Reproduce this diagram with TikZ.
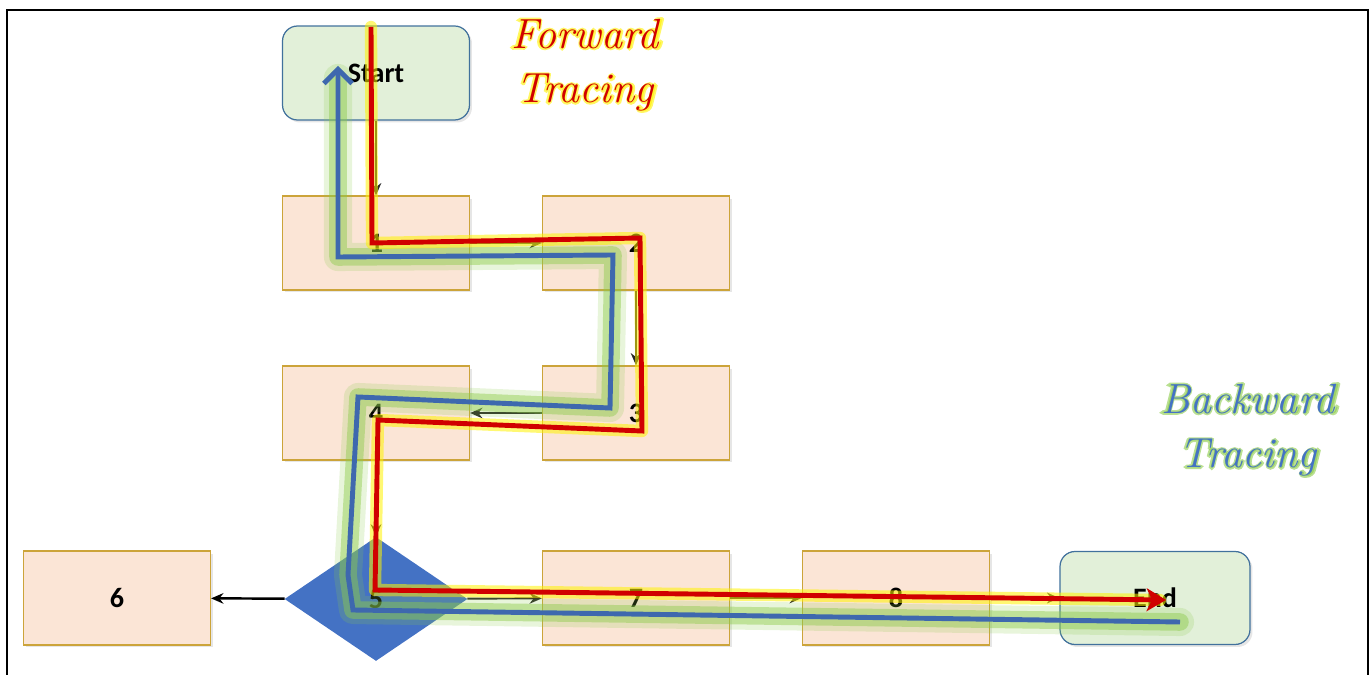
\documentclass[tikz,border=0pt]{standalone}
\usepackage{fontspec}
\setsansfont{Carlito}
\newfontfamily\glowfont{lmroman10-italic}[Extension=.otf, FakeBold=8]
\usetikzlibrary{shapes.geometric}
\usetikzlibrary{positioning}
\usetikzlibrary{arrows.meta}
\usetikzlibrary{shadows}
\definecolor{boxfill}{HTML}{FBE5D6}
\definecolor{boxline}{HTML}{CCA43A}
\definecolor{termfill}{HTML}{E2F0D9}
\definecolor{termline}{HTML}{41719C}
\definecolor{decfill}{HTML}{4472C4}
\definecolor{fwred}{HTML}{D00000}
\definecolor{bwblue}{HTML}{3E68AE}
\definecolor{glowgreen}{HTML}{8CCB4A}
\definecolor{glowyellow}{HTML}{FFF200}

\begin{document}
\begin{tikzpicture}[x=0.02cm,y=-0.02cm,
    stepbox/.style={draw=boxline, fill=boxfill, line width=0.7pt, minimum width=3.74cm, minimum height=1.88cm,
      font=\sffamily\bfseries\fontsize{16}{18}\selectfont,
      drop shadow={shadow xshift=0.05cm, shadow yshift=-0.05cm, opacity=0.2}},
    termbox/.style={stepbox, draw=termline, fill=termfill, rounded corners=0.3cm},
    decbox/.style={diamond, fill=decfill, minimum width=3.66cm, minimum height=2.48cm, inner sep=0pt,
      font=\sffamily\bfseries\fontsize{16}{18}\selectfont},
    conn/.style={-{Stealth[length=7pt,width=6pt]}, line width=1.1pt, black!85},
    blueglow/.style={draw=glowgreen, line width=10pt, opacity=0.45, line join=round, line cap=round},
    bluehalo/.style={draw=glowgreen, line width=16pt, opacity=0.2, line join=round, line cap=round},
    bluetrace/.style={draw=bwblue, line width=2.8pt, line join=miter},
    redglow/.style={draw=glowyellow, line width=7pt, opacity=0.55, line join=round, line cap=round},
    redtrace/.style={draw=fwred, line width=2.8pt, line join=miter},
    tracetext/.style={align=center, font=\itshape\fontsize{24}{31}\selectfont},
    glowtext/.style={tracetext, font=\glowfont\fontsize{24}{31}\selectfont, opacity=0.6}]
  % page and frame
  \useasboundingbox (0,0) rectangle (1370,675);
  \draw[line width=0.9pt] (7,675) -- (7,10) -- (1368,10) -- (1368,675);

  % flow chart
  \node[termbox] (start) at (376,73) {Start};
  \node[stepbox] (n1) at (376,243) {1};
  \node[stepbox] (n2) at (636,243) {2};
  \node[stepbox] (n3) at (636,413) {3};
  \node[stepbox] (n4) at (376,413) {4};
  \node[decbox] (n5) at (376,599) {5};
  \node[stepbox] (n6) at (117,598) {6};
  \node[stepbox] (n7) at (636,598) {7};
  \node[stepbox] (n8) at (896,598) {8};
  \node[termbox, minimum width=3.8cm, minimum height=1.86cm] (end) at (1155,598) {End};

  \draw[conn] (start) -- (n1);
  \draw[conn] (n1) -- (n2);
  \draw[conn] (n2) -- (n3);
  \draw[conn] (n3) -- (n4);
  \draw[conn] (n4) -- (n5);
  \draw[conn, line width=1.4pt, black] (n5) -- (n6);
  \draw[conn] (n5) -- (n7);
  \draw[conn] (n7) -- (n8);
  \draw[conn] (n8) -- (end);

  % backward trace
  \draw[bluehalo] (1180,622) -- (353,610) -- (348,575) -- (358,397) -- (610,408) -- (613,255) -- (338,257) -- (338,78);
  \draw[blueglow] (1180,622) -- (353,610) -- (348,575) -- (358,397) -- (610,408) -- (613,255) -- (338,257) -- (338,78);
  \draw[bluetrace, -{Straight Barb[length=8pt,width=16pt]}] (1180,622) -- (353,610) -- (348,575) -- (358,397)
    -- (610,408) -- (613,255) -- (338,257) -- (338,66);

  % forward trace
  \draw[redglow] (371,27) -- (372,243) -- (640,238) -- (642,431) -- (378,420) -- (375,590) -- (1160,600);
  \draw[redtrace, -{Stealth[length=11pt,width=13pt,inset=3pt]}] (371,27) -- (372,243) -- (640,238) -- (642,431)
    -- (378,420) -- (375,590) -- (1166,600);

  % labels
  \node[glowtext, text=glowyellow] (fwglow) at (585,65) {Forward\\Tracing};
  \node[tracetext, text=fwred] (fwd) at (585,65) {Forward\\Tracing};
  \node[glowtext, text=glowgreen] (bwglow) at (1248,430) {Backward\\Tracing};
  \node[tracetext, text=decfill] (bwd) at (1248,430) {Backward\\Tracing};
\end{tikzpicture}
\end{document}
